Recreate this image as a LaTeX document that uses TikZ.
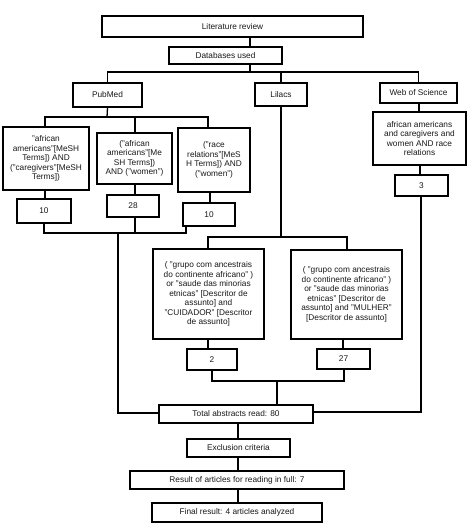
\documentclass[tikz,border=0pt]{standalone}
\usepackage{fontspec}
\setmainfont{Liberation Sans}
\begin{document}
\begin{tikzpicture}[x=1pt,y=-1pt,
  box/.style={draw=black,line width=1.8pt,fill=white,inner sep=0pt,align=center,
    font=\fontsize{8.3}{9.5}\selectfont,text=black!90},
  conn/.style={draw=black,line width=1.3pt}]
\useasboundingbox (0,0) rectangle (473,525);
% top
\node[box,minimum width=261pt,minimum height=21pt] (lit) at (232.5,26.5) {Literature review};
\node[box,minimum width=113pt,minimum height=17pt] (db) at (225.5,55.5) {Databases used};
\node[box,minimum width=69pt,minimum height=24pt] (pub) at (107.5,95) {PubMed};
\node[box,minimum width=52pt,minimum height=23pt] (lil) at (281,94.5) {Lilacs};
\node[box,minimum width=77pt,minimum height=20pt] (wos) at (418.5,93) {Web of Science};
% PubMed queries
\node[box,minimum width=86pt,minimum height=63pt] (q1) at (46,158.5) {"african\\americans"[MeSH\\Terms]) AND\\("caregivers"[MeSH\\Terms])};
\node[box,minimum width=75pt,minimum height=51pt] (q2) at (134.5,158.5) {("african\\americans"[Me\\SH Terms])\\AND ("women")};
\node[box,minimum width=72pt,minimum height=64pt] (q3) at (214,160) {("race\\relations"[MeS\\H Terms]) AND\\("women")};
\node[box,minimum width=54pt,minimum height=24pt] (n1) at (44,211) {10};
\node[box,minimum width=52pt,minimum height=22pt] (n2) at (133,206) {28};
\node[box,minimum width=52pt,minimum height=23pt] (n3) at (209,214.5) {10};
% WoS
\node[box,minimum width=93pt,minimum height=53pt] (wq) at (419.5,138.5) {african americans\\and caregivers and\\women AND race\\relations};
\node[box,minimum width=53pt,minimum height=21pt] (wn) at (421.5,185.5) {3};
% Lilacs
\node[box,minimum width=111pt,minimum height=90pt] (l1) at (208.5,294) {( "grupo com ancestrais\\do continente africano" )\\or "saude das minorias\\etnicas" {[}Descritor de\\assunto{]} and\\"CUIDADOR" {[}Descritor\\de assunto{]}};
\node[box,minimum width=111pt,minimum height=89pt] (l2) at (346.5,294.5) {( "grupo com ancestrais\\do continente africano" )\\or "saude das minorias\\etnicas" {[}Descritor de\\assunto{]} and "MULHER"\\{[}Descritor de assunto{]}};
\node[box,minimum width=50pt,minimum height=21pt] (ln1) at (212,359.5) {2};
\node[box,minimum width=53pt,minimum height=20pt] (ln2) at (343.5,359) {27};
% bottom
\node[box,minimum width=154pt,minimum height=18pt] (tot) at (236,414) {Total abstracts read: 80};
\node[box,minimum width=103pt,minimum height=18pt] (exc) at (238.5,448) {Exclusion criteria};
\node[box,minimum width=214pt,minimum height=18pt] (res) at (237,480) {Result of articles for reading in full: 7};
\node[box,minimum width=170pt,minimum height=19pt] (fin) at (237,512.5) {Final result: 4 articles analyzed};
% bus coordinates
\coordinate (b0) at (250,72);
\coordinate (b1) at (107,117);
\coordinate (b2) at (118,233);
\coordinate (b3) at (281,237);
\coordinate (b4) at (277,381);
\coordinate (b5) at (0,413);
\coordinate (b6) at (238,0);
% connectors
\draw[conn] (lit.south -| b0) -- (db.north -| b0);
\draw[conn] (db.south -| b0) -- (b0);
\draw[conn] (pub.north) -- (pub.north |- b0) -- (wos.north |- b0) -- (wos.north);
\draw[conn] (lil.north) -- (lil.north |- b0);
% PubMed
\draw[conn] (pub.south) -- (b1);
\draw[conn] (q1.north -| 45,0) -- (45,117) -- (208,117) -- (q3.north -| 208,0);
\draw[conn] (q2.north -| 135,0) -- (135,117);
\draw[conn] (q1.south -| 45,0) -- (n1.north -| 45,0);
\draw[conn] (q2.south -| 135,0) -- (n2.north -| 135,0);
\draw[conn] (q3.south -| 210,0) -- (n3.north -| 210,0);
\draw[conn] (n1.south -| 44,0) -- (44,233) -- (186,233) -- (n3.south -| 186,0);
\draw[conn] (n2.south -| 135,0) -- (135,233);
\draw[conn] (b2) -- (118,413) -- (tot.west |- b5);
% Lilacs
\draw[conn] (lil.south) -- (b3);
\draw[conn] (l1.north -| 208,0) -- (208,237) -- (347,237) -- (l2.north -| 347,0);
\draw[conn] (l1.south -| 208,0) -- (ln1.north -| 208,0);
\draw[conn] (l2.south -| 343,0) -- (ln2.north -| 343,0);
\draw[conn] (ln1.south -| 212,0) -- (212,381) -- (344,381) -- (ln2.south -| 344,0);
\draw[conn] (b4) -- (tot.north -| b4);
% WoS
\draw[conn] (wos.south -| 419,0) -- (wq.north -| 419,0);
\draw[conn] (wq.south -| 420,0) -- (wn.north -| 420,0);
\draw[conn] (wn.south -| 421,0) -- (421,412) -- (tot.east |- 0,412);
% bottom chain
\draw[conn] (tot.south -| b6) -- (exc.north -| b6);
\draw[conn] (exc.south -| b6) -- (res.north -| b6);
\draw[conn] (res.south -| b6) -- (fin.north -| b6);
\end{tikzpicture}
\end{document}
